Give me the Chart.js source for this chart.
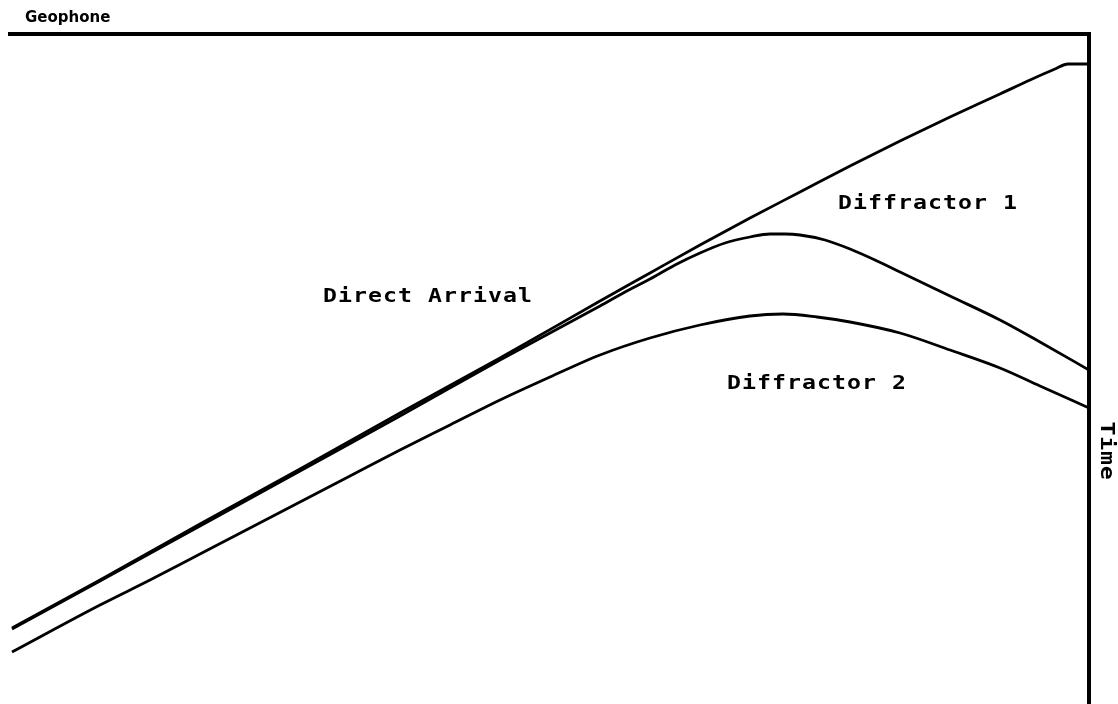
<!DOCTYPE html>
<html>
<head>
<meta charset="utf-8">
<title>Geophone / Time</title>
<script src="https://cdn.jsdelivr.net/npm/chart.js@4/dist/chart.umd.min.js"></script>
<style>
  html, body { margin: 0; padding: 0; background: #fff; }
  #wrap { position: relative; width: 1118px; height: 704px; }
</style>
</head>
<body>
<div id="wrap"><canvas id="traveltime"></canvas></div>
<script>
// 지오폰 위치(x, m) 대 도달 시간(t, ms) — 직접파와 두 회절체의 주시 곡선
const directArrival = [
  [2, 594], [90, 546], [190, 490], [290, 435], [390, 379], [490, 324],
  [590, 267], [640, 239], [690, 211], [740, 184], [790, 158], [840, 132],
  [890, 107], [940, 83], [990, 60], [1020, 46], [1045, 35], [1058, 30], [1079, 30],
];
const diffractor1 = [
  [2, 595], [90, 547], [190, 492], [290, 437], [390, 382], [490, 326],
  [540, 299], [590, 272], [615, 258], [640, 245], [665, 231], [690, 219],
  [715, 209], [740, 203], [760, 200], [775, 200], [790, 201], [815, 206],
  [840, 215], [865, 226], [890, 238], [940, 262], [990, 286], [1030, 308], [1079, 336],
];
const diffractor2 = [
  [2, 618], [90, 571], [140, 546], [190, 520], [240, 494], [290, 468],
  [340, 442], [390, 416], [440, 391], [490, 366], [540, 343], [590, 321],
  [640, 304], [690, 291], [740, 282], [773, 280], [807, 283], [840, 288],
  [890, 299], [940, 316], [990, 334], [1030, 352], [1079, 374],
];
const curveNames = ["Direct Arrival", "Diffractor 1", "Diffractor 2"];
const xRange = [0, 1079];
const tRange = [0, 670];

// 곡선 이름을 붙일 자리 (데이터 좌표)
const curveLabels = [
  { text: curveNames[0], x: 313, t: 263 },
  { text: curveNames[1], x: 828, t: 170 },
  { text: curveNames[2], x: 717, t: 350 },
];

const toXY = (arr) => arr.map((p) => ({ x: p[0], y: p[1] }));

function lineSet(label, pts) {
  return {
    label: label,
    data: toXY(pts),
    borderColor: "#000",
    borderWidth: 2.8,
    pointRadius: 0,
    fill: false,
    cubicInterpolationMode: "monotone",
  };
}

// 플로터 글꼴처럼 가로로 넓힌 글자
function wideText(ctx, text, px, py, sx) {
  ctx.save();
  ctx.translate(px, py);
  ctx.scale(sx, 1);
  ctx.fillText(text, 0, 0);
  ctx.restore();
}

const labelPlugin = {
  id: "curveText",
  afterDatasetsDraw(chart) {
    const { ctx, chartArea, scales } = chart;
    ctx.save();
    ctx.fillStyle = "#000";
    ctx.textBaseline = "middle";
    ctx.textAlign = "left";
    ctx.font = 'bold 19px "DejaVu Sans Mono"';
    ctx.letterSpacing = "0.85px";
    curveLabels.forEach((l) => {
      wideText(ctx, l.text, scales.x.getPixelForValue(l.x), scales.y.getPixelForValue(l.t), 1.22);
    });

    // 축 이름: 위쪽 Geophone, 오른쪽 Time(세로)
    ctx.letterSpacing = "0px";
    ctx.font = 'bold 15px "DejaVu Sans"';
    ctx.fillText("Geophone", chartArea.left + 15, chartArea.top - 16);

    ctx.font = 'bold 19px "DejaVu Sans Mono"';
    ctx.letterSpacing = "0.6px";
    ctx.textAlign = "center";
    ctx.translate(chartArea.right + 17, scales.y.getPixelForValue(417));
    ctx.rotate(Math.PI / 2);
    ctx.scale(1.22, 1);
    ctx.fillText("Time", 0, 0);
    ctx.restore();
  },
};

new Chart(document.getElementById("traveltime"), {
  type: "line",
  data: {
    datasets: [
      lineSet(curveNames[0], directArrival),
      lineSet(curveNames[1], diffractor1),
      lineSet(curveNames[2], diffractor2),
    ],
  },
  options: {
    responsive: true,
    maintainAspectRatio: false,
    animation: false,
    layout: { padding: { top: 34, left: 10, right: 29, bottom: 0 } },
    plugins: {
      legend: { display: false },
      tooltip: { enabled: false },
    },
    scales: {
      x: {
        type: "linear",
        position: "top",
        min: xRange[0], max: xRange[1],
        grid: { display: false, drawTicks: false },
        ticks: { display: false },
        border: { display: true, color: "#000", width: 4 },
      },
      y: {
        type: "linear",
        position: "right",
        reverse: true,
        min: tRange[0], max: tRange[1],
        grid: { display: false, drawTicks: false },
        ticks: { display: false },
        border: { display: true, color: "#000", width: 4 },
      },
    },
  },
  plugins: [labelPlugin],
});
</script>
</body>
</html>
